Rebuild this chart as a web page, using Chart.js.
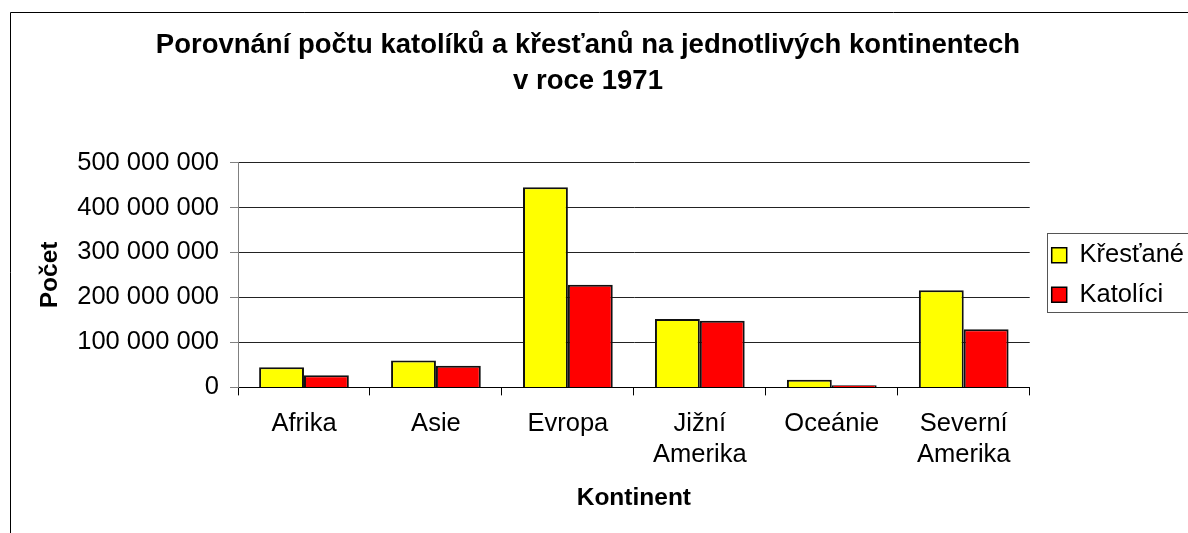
<!DOCTYPE html>
<html>
<head>
<meta charset="utf-8">
<script src="https://cdn.jsdelivr.net/npm/chart.js@4"></script>
<style>
  html, body { margin: 0; padding: 0; background: #fff; }
  #wrap { width: 1188px; height: 533px; position: relative; }
</style>
</head>
<body>
<div id="wrap"><canvas id="chart"></canvas></div>
<script>
const categories = ['Afrika', 'Asie', 'Evropa', ['Jižní', 'Amerika'], 'Oceánie', ['Severní', 'Amerika']]
const krestane = [45000000, 60000000, 445000000, 152000000, 17000000, 216000000]
const katolici = [27000000, 48000000, 228000000, 148000000, 5000000, 129000000]
const yTicks = [0, 100000000, 200000000, 300000000, 400000000, 500000000]

Chart.defaults.font.family = 'Arial, "Liberation Sans", sans-serif'
Chart.defaults.color = '#000'

const fmt = v => String(v).replace(/\B(?=(\d{3})+(?!\d))/g, ' ')

// outer frame (only left and top edge visible) + box round the legend
const framePlugin = {
    id: 'frame',
    afterDraw(chart) {
        const ctx = chart.ctx
        ctx.save()
        ctx.strokeStyle = '#000'
        ctx.lineWidth = 1
        ctx.beginPath()
        ctx.moveTo(10.5, 533)
        ctx.lineTo(10.5, 12.5)
        ctx.lineTo(1188, 12.5)
        ctx.stroke()

        const boxes = chart.legend.legendHitBoxes
        if (boxes && boxes.length) {
            const first = boxes[0], last = boxes[boxes.length - 1]
            const l = Math.min(...boxes.map(b => b.left)) - 5
            const t = first.top + first.height / 2 - 22
            const b = last.top + last.height / 2 + 17
            ctx.strokeStyle = '#555'
            ctx.strokeRect(Math.round(l) + 0.5, Math.round(t) + 0.5, 1190 - Math.round(l), Math.round(b - t))
        }
        ctx.restore()
    }
}

new Chart(document.getElementById('chart'), {
    type: 'bar',
    data: {
        labels: categories,
        datasets: [{
            label: 'Křesťané',
            data: krestane,
            backgroundColor: '#ffff00',
            borderColor: '#111',
            borderWidth: 2,
        }, {
            label: 'Katolíci',
            data: katolici,
            backgroundColor: '#ff0000',
            borderColor: '#111',
            borderWidth: 2,
        }]
    },
    options: {
        responsive: true,
        maintainAspectRatio: false,
        animation: false,
        datasets: {
            bar: { barPercentage: 1, categoryPercentage: 0.68 }
        },
        layout: { padding: { left: -18, right: -6, top: 0, bottom: 20 } },
        plugins: {
            title: {
                display: true,
                text: ['Porovnání počtu katolíků a křesťanů na jednotlivých kontinentech', 'v roce 1971'],
                font: { size: 27.5, weight: 'bold', lineHeight: 1.3 },
                color: '#000',
                padding: { top: 28, bottom: 63 },
            },
            legend: {
                position: 'right',
                fullSize: false,
                labels: {
                    boxWidth: 15,
                    boxHeight: 15,
                    padding: 14,
                    font: { size: 25.5 },
                    color: '#000',
                    generateLabels(chart) {
                        return chart.data.datasets.map((ds, i) => ({
                            text: ds.label,
                            fillStyle: ds.backgroundColor,
                            strokeStyle: '#000',
                            lineWidth: 1.5,
                            datasetIndex: i,
                        }))
                    }
                }
            },
            tooltip: { enabled: false },
        },
        scales: {
            x: {
                grid: { offset: true, drawOnChartArea: false, color: '#000', tickLength: 8 },
                border: { color: '#000' },
                ticks: { font: { size: 25.5, lineHeight: 1.22 }, padding: 13, maxRotation: 0, autoSkip: false },
                title: {
                    display: true,
                    text: 'Kontinent',
                    font: { size: 24.5, weight: 'bold', lineHeight: 1.2 },
                    padding: { top: 0, bottom: 0 },
                },
            },
            y: {
                min: 0,
                max: 500000000,
                afterBuildTicks: axis => { axis.ticks = yTicks.map(v => ({ value: v })) },
                afterFit: s => { s.width = 256 },
                grid: { color: '#222', tickColor: '#808080', tickLength: 8 },
                border: { color: '#808080' },
                ticks: { font: { size: 25.5 }, padding: 11, callback: v => fmt(v) },
                title: {
                    display: true,
                    text: 'Počet',
                    font: { size: 24.5, weight: 'bold', lineHeight: 1.25 },
                    padding: { top: 52.7, bottom: 0 },
                },
            },
            // empty spacer between the plot and the legend
            gap: {
                type: 'linear',
                position: 'right',
                display: true,
                grid: { display: false },
                border: { display: false },
                ticks: { display: false },
                afterFit: s => { s.width = 8 },
            }
        }
    },
    plugins: [framePlugin]
})
</script>
</body>
</html>
